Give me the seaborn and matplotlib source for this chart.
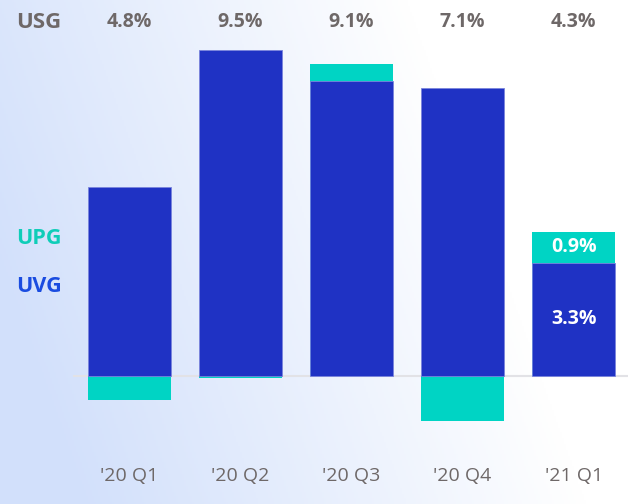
import numpy as np
import pandas as pd
import matplotlib
matplotlib.use("Agg")
import matplotlib.pyplot as plt
import seaborn as sns
from matplotlib.colors import LinearSegmentedColormap

# dados (%)
quarters = ["'20 Q1", "'20 Q2", "'20 Q3", "'20 Q4", "'21 Q1"]
uvg = [5.5, 9.5, 8.6, 8.4, 3.3]
upg = [-0.7, -0.05, 0.5, -1.3, 0.9]
usg = ["4.8%", "9.5%", "9.1%", "7.1%", "4.3%"]
inner_labels = {4: ("3.3%", "0.9%")}

blue = "#1f32c4"
teal = "#00d4c4"
grey = "#6e6868"

sns.set_theme(style="white")
plt.rcParams["font.family"] = ["Open Sans", "DejaVu Sans"]

fig = plt.figure(figsize=(6.4, 5.04), dpi=100)

# fundo em degradê
bg = fig.add_axes([0, 0, 1, 1])
xx, yy = np.meshgrid(np.linspace(0, 1, 320), np.linspace(0, 1, 252))
t = np.clip(1.0 - 1.25 * xx - 0.35 * (1 - yy) + 0.15, 0, 1)
cmap = LinearSegmentedColormap.from_list("bg", ["#ffffff", "#d2e0fb"])
bg.imshow(t, cmap=cmap, aspect="auto", extent=[0, 1, 0, 1], vmin=0, vmax=1)
bg.axis("off")

ax = fig.add_axes([73 / 640, (504 - 440) / 504, (628 - 73) / 640, 400 / 504])
ax.patch.set_alpha(0)

df = pd.DataFrame({"quarter": quarters, "UVG": uvg, "UPG": upg})
df["teal_top"] = np.where(df["UPG"] > 0, df["UVG"] + df["UPG"], df["UPG"])

sns.barplot(data=df, x="quarter", y="teal_top", color=teal, width=0.75,
            saturation=1, ax=ax, linewidth=0)
sns.barplot(data=df, x="quarter", y="UVG", color=blue, width=0.75,
            saturation=1, ax=ax, edgecolor="#7a84dc", linewidth=0.6)

ax.axhline(0, color="#e2e2e6", lw=1.5, zorder=0.5)
ax.set_xlim(-0.51, 4.49)
ax.set_ylim(-1.866, 9.796)
ax.set_xlabel("")
ax.set_ylabel("")
ax.set_yticks([])
ax.set_xticks([])
sns.despine(ax=ax, left=True, bottom=True)

# rótulos alinhados às barras (y em pixels)
for i, q in enumerate(quarters):
    ax.text(i, -2.92, q, ha="center", va="center", fontsize=14,
            color=grey, clip_on=False)
    ax.text(i, 10.33, usg[i], ha="center", va="center", fontsize=14,
            fontweight="bold", color=grey, clip_on=False)

for i, (lv, lp) in inner_labels.items():
    ax.text(i, uvg[i] * 0.5, lv, ha="center", va="center",
            fontsize=14, fontweight="bold", color="white")
    ax.text(i, uvg[i] + upg[i] / 2, lp, ha="center", va="center",
            fontsize=14, fontweight="bold", color="white")

fig.text(39 / 640, 1 - 22 / 504, "USG", ha="center", va="center",
         fontsize=16, fontweight="bold", color=grey)
fig.text(39 / 640, 1 - 238 / 504, "UPG", ha="center", va="center",
         fontsize=15.5, fontweight="bold", color="#0fcdb8")
fig.text(39 / 640, 1 - 287 / 504, "UVG", ha="center", va="center",
         fontsize=15.5, fontweight="bold", color="#1a4ce0")

fig.savefig("out.png", dpi=100)
